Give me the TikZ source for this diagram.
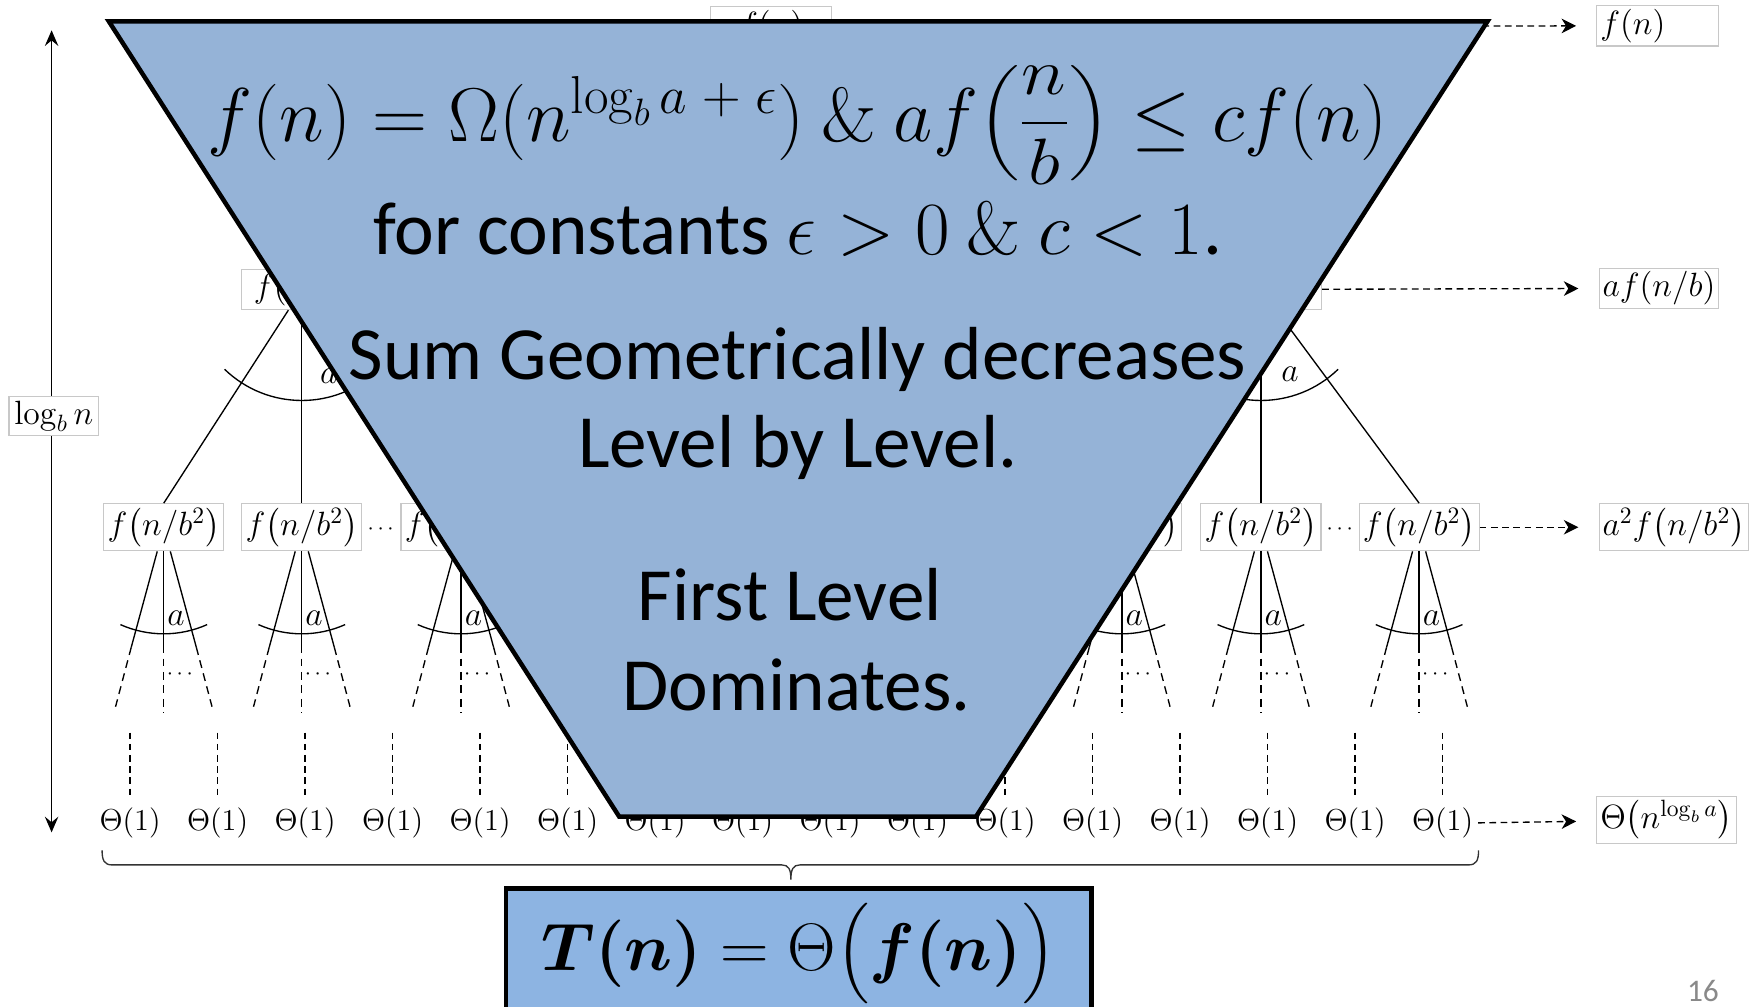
\documentclass[tikz,border=0pt]{standalone}
\usepackage{fix-cm}
\usepackage{amsmath}
\usepackage[no-math]{fontspec}
\setmainfont{Carlito}
\usetikzlibrary{arrows.meta,calc}
\definecolor{trapblue}{RGB}{149,179,215}
\definecolor{resblue}{RGB}{141,180,226}
\definecolor{boxgray}{RGB}{200,200,200}
\definecolor{pagegray}{RGB}{137,137,137}
\tikzset{
  treebox/.style={draw=boxgray, line width=0.5pt, fill=white, inner sep=1.5pt, font=\fontsize{15}{17}\selectfont},
  thetalab/.style={inner xsep=2pt, inner ysep=5pt, font=\fontsize{13.5}{16}\selectfont},
  branch/.style={line width=0.6pt},
  dbranch/.style={line width=0.6pt, dash pattern=on 3.5pt off 2.5pt},
  vdash/.style={line width=0.6pt, dash pattern=on 3pt off 2pt},
  levelarrow/.style={line width=0.6pt, dash pattern=on 3pt off 2pt, shorten >=9pt, -{Stealth[length=6.5pt,width=6.5pt,inset=2pt]}},
  albl/.style={font=\fontsize{15}{17}\selectfont, inner sep=1pt},
  dotlbl/.style={font=\fontsize{10}{12}\selectfont, inner sep=1pt},
  trap/.style={draw=black, line width=2pt, fill=trapblue},
  traptext/.style={font=\fontsize{33.5}{40}\selectfont, anchor=base, inner sep=0pt},
  resultbox/.style={draw=black, line width=2pt, fill=resblue, minimum width=261pt, minimum height=58pt, inner sep=0pt, font=\fontsize{30}{36}\selectfont},
}
\begin{document}
\begin{tikzpicture}[x=0.5pt,y=-0.5pt]
\useasboundingbox (0,0) rectangle (1568,897);
\clip (0,0) rectangle (1568,897);

% ---------- tree ----------
\node[treebox, minimum width=54pt, minimum height=18pt] (n0) at (687,24) {$f(n)$};
\node[treebox, minimum width=54pt, minimum height=17.5pt] (n1a) at (269,258) {$f(n/b)$};
\node[treebox, minimum width=54pt, minimum height=17.5pt] (n1b) at (1124,258) {$f(n/b)$};
\foreach \n/\cx in {n2a/146, n2b/269, n2c/411, n2d/1000, n2e/1124, n2f/1265}{
  \node[treebox, minimum width=53.5pt, minimum height=19pt] (\n) at (\cx,470) {$f\bigl(n/b^2\bigr)$};
}
\node[dotlbl] (d1) at (341,472) {$\cdots$};
\node[dotlbl] (d2) at (1196,472) {$\cdots$};

\draw[branch] (n0) -- (n1a.north);
\draw[branch] (n0) -- (n1b.north);
\foreach \p/\c in {n1a/n2a, n1a/n2b, n1a/n2c, n1b/n2d, n1b/n2e, n1b/n2f}{
  \draw[branch] (\p) -- (\c.north);
}
\draw[branch] (n1a.center) ++(134:99) arc[start angle=134, end angle=46, radius=99];
\draw[branch] (n1b.center) ++(134:99) arc[start angle=134, end angle=46, radius=99];
\node[albl] (a1a) at (293,335) {$a$};
\node[albl] (a1b) at (1150,334) {$a$};

\foreach \n/\cx in {n2a/146, n2b/269, n2c/411, n2d/1000, n2e/1124, n2f/1265}{
  \coordinate (\n-l1) at ({\cx-29},577);
  \coordinate (\n-l2) at ({\cx-43},630);
  \coordinate (\n-m1) at (\cx,575);
  \coordinate (\n-m2) at (\cx,636);
  \coordinate (\n-r1) at ({\cx+29},577);
  \coordinate (\n-r2) at ({\cx+43},630);
  \draw[branch] (\n) -- (\n-l1);
  \draw[branch] (\n) -- (\n-m1);
  \draw[branch] (\n) -- (\n-r1);
  \draw[dbranch] (\n-l1) -- (\n-l2);
  \draw[dbranch] (\n-m1) -- (\n-m2);
  \draw[dbranch] (\n-r1) -- (\n-r2);
  \draw[branch] (\n.center) ++(114:95) arc[start angle=114, end angle=66, radius=95];
  \node[albl] (\n-a) at ({\cx+11},551) {$a$};
  \node[dotlbl] (\n-d) at ({\cx+16},601) {$\cdots$};
}

% ---------- leaves ----------
\foreach \i in {1,...,16}{
  \node[thetalab] (t\i) at ({116+78*(\i-1)},734) {$\Theta(1)$};
  \coordinate (v\i) at ({116+78*(\i-1)},653);
  \draw[vdash] (v\i) -- (t\i);
}

% brace
\draw[line width=0.6pt, black!80] (91,758) .. controls (91,767) and (93,771) .. (100,771) -- (697,771)
  .. controls (703,771) and (705,775) .. (705,784)
  .. controls (705,775) and (707,771) .. (713,771) -- (1309,771)
  .. controls (1316,771) and (1318,767) .. (1318,758);

% ---------- level sums ----------
\node[treebox, anchor=west, text width=51pt, align=left, minimum height=18pt] (r0) at (1423,23) {$f(n)$};
\node[treebox, anchor=west, minimum height=17.5pt] (r1) at (1425,257) {$af(n/b)$};
\node[treebox, anchor=west, minimum height=19pt] (r2) at (1425,470) {$a^2f\bigl(n/b^2\bigr)$};
\node[treebox, anchor=west, minimum height=19pt] (r3) at (1423,731) {$\Theta\bigl(n^{\log_b a}\bigr)$};
\draw[levelarrow] (n0) -- (r0);
\draw[levelarrow] (n1b) -- (r1);
\draw[levelarrow] (n2f) -- (r2);
\draw[levelarrow] (t16) -- (r3);

% ---------- height arrow ----------
\coordinate (vtop) at (46,27);
\coordinate (vbot) at (46,742);
\draw[line width=0.7pt, {Stealth[length=7pt,width=6pt,inset=2.5pt]}-{Stealth[length=7pt,width=6pt,inset=2.5pt]}] (vtop) -- (vbot);
\node[treebox, minimum width=40pt, minimum height=17.5pt] (hlab) at (48,371) {$\log_b n$};

% ---------- trapezoid ----------
\draw[trap] (97,19) -- (1326,19) -- (870,728) -- (552,728) -- cycle;
\node[traptext, font=\fontsize{34}{40}\selectfont] (m1) at (711,126) {$f(n) = \Omega(n^{\log_b a\mskip5mu+\mskip5mu\epsilon})\ \&\ af\raisebox{0.9pt}{\scalebox{1}[0.86]{$\left(\dfrac{n}{b}\right)$}} \le cf(n)$};
\node[traptext] (m2) at (711,227) {for constants $\epsilon > 0\ \&\ c < 1$.};
\node[traptext] (m3) at (711,338) {Sum Geometrically decreases};
\node[traptext] (m4) at (711,417) {Level by Level.};
\node[traptext] (m5) at (704,553) {First Level};
\node[traptext] (m6) at (710,633) {Dominates.};

% ---------- result ----------
\node[resultbox] (res) at (712,850) {$\boldsymbol{T(n)} = \Theta\bigl(\boldsymbol{f(n)}\bigr)$};

\node[font=\fontsize{14}{16}\selectfont, text=pagegray, anchor=base, inner sep=0pt] (pg) at (1518,893) {16};
\end{tikzpicture}
\end{document}
